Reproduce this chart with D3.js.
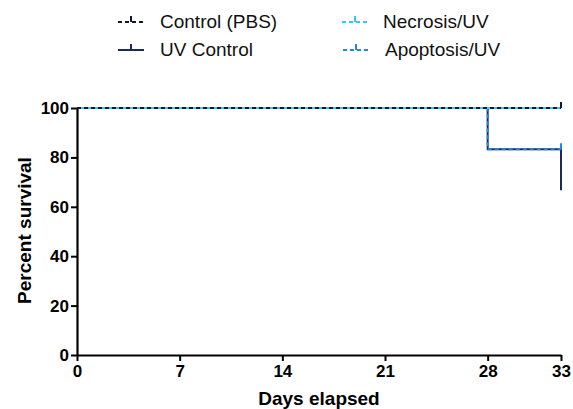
<!DOCTYPE html>
<html>
<head>
<meta charset="utf-8">
<script src="https://cdn.jsdelivr.net/npm/d3@7"></script>
<style>
  body { margin: 0; background: #fff; }
  text { font-family: "Liberation Sans", Arial, sans-serif; }
</style>
</head>
<body>
<div id="chart"></div>
<script>
// survival data (days, percent)
var seriesNames = ["Control (PBS)", "UV Control", "Necrosis/UV", "Apoptosis/UV"];
var controlDays = [0, 33], controlSurv = [100, 100];
var uvDays = [0, 28, 33], uvSurv = [100, 83.3, 66.7];
var necrosisDays = [0, 33], necrosisSurv = [100, 100];
var apoptosisDays = [0, 28, 33], apoptosisSurv = [100, 83.3, 83.3];
var censoredEnd = [true, false, true, true];
var xTicks = [0, 7, 14, 21, 28, 33];
var yTicks = [0, 20, 40, 60, 80, 100];

var width = 573, height = 409;
var svg = d3.select("#chart").append("svg")
    .attr("width", width)
    .attr("height", height);

var x = d3.scaleLinear().domain([0, 33]).range([77, 561]);
var y = d3.scaleLinear().domain([0, 100]).range([355, 108]);

var styles = [
    { color: "#111833", width: 1.8, dash: "4,3", offset: 0 },
    { color: "#1a2a5e", width: 2, dash: null, offset: 0 },
    { color: "#35c8f5", width: 1.8, dash: "4,3", offset: 3 },
    { color: "#1e88f0", width: 1.8, dash: "4,3", offset: 3 }
];

var series = [
    { days: controlDays, surv: controlSurv },
    { days: uvDays, surv: uvSurv },
    { days: necrosisDays, surv: necrosisSurv },
    { days: apoptosisDays, surv: apoptosisSurv }
].map(function (s, i) {
    return {
        name: seriesNames[i],
        style: styles[i],
        censored: censoredEnd[i],
        pts: s.days.map(function (d, j) { return { day: d, surv: s.surv[j] }; })
    };
});

// axes
var xAxis = svg.append("g")
    .attr("transform", "translate(0," + y(0) + ")")
    .call(d3.axisBottom(x).tickValues(xTicks).tickSize(6).tickSizeOuter(0));
var yAxis = svg.append("g")
    .attr("transform", "translate(" + x(0) + ",0)")
    .call(d3.axisLeft(y).tickValues(yTicks).tickSize(6).tickSizeOuter(0));

[xAxis, yAxis].forEach(function (g) {
    g.select(".domain").attr("stroke", "#000").attr("stroke-width", 2.2);
    g.selectAll(".tick line").attr("stroke", "#000").attr("stroke-width", 2);
    g.selectAll(".tick text")
        .attr("fill", "#000")
        .style("font-size", "17px")
        .style("font-weight", "bold")
        .style("font-family", "'Liberation Sans', Arial, sans-serif");
});
xAxis.selectAll(".tick text").attr("y", 8).attr("dy", "0.85em");
yAxis.selectAll(".tick text").attr("x", -8);

svg.append("text")
    .attr("x", (x(0) + x(33)) / 2)
    .attr("y", 405)
    .attr("text-anchor", "middle")
    .style("font-size", "19px")
    .style("font-weight", "bold")
    .text("Days elapsed");

svg.append("text")
    .attr("transform", "translate(31," + (y(50) - 1) + ") rotate(-90)")
    .attr("text-anchor", "middle")
    .style("font-size", "19px")
    .style("font-weight", "bold")
    .text("Percent survival");

// curves
var line = d3.line()
    .x(function (d) { return x(d.day); })
    .y(function (d) { return y(d.surv); })
    .curve(d3.curveStepAfter);

var order = [1, 3, 2, 0];
order.forEach(function (i) {
    var s = series[i];
    svg.append("path")
        .datum(s.pts)
        .attr("fill", "none")
        .attr("stroke", s.style.color)
        .attr("stroke-width", s.style.width)
        .attr("stroke-dasharray", s.style.dash)
        .attr("stroke-dashoffset", s.style.offset)
        .attr("d", line);
    if (s.censored) {
        var last = s.pts[s.pts.length - 1];
        svg.append("line")
            .attr("x1", x(last.day)).attr("x2", x(last.day))
            .attr("y1", y(last.surv)).attr("y2", y(last.surv) - 6)
            .attr("stroke", s.style.color)
            .attr("stroke-width", 2);
    }
});

// legend
var legendPos = [[118, 22, 160], [118, 50, 160], [342, 22, 383], [343, 50, 385]];
series.forEach(function (s, i) {
    var p = legendPos[i];
    var g = svg.append("g")
        .attr("transform", "translate(" + p[0] + "," + p[1] + ")");
    g.append("line")
        .attr("x1", 0).attr("x2", 26)
        .attr("y1", 0).attr("y2", 0)
        .attr("stroke", s.style.color)
        .attr("stroke-width", 2)
        .attr("stroke-dasharray", s.style.dash);
    g.append("line")
        .attr("x1", 13).attr("x2", 13)
        .attr("y1", 0).attr("y2", -6)
        .attr("stroke", s.style.color)
        .attr("stroke-width", 2);
    g.append("text")
        .attr("x", p[2] - p[0])
        .attr("y", 6)
        .style("font-size", "19px")
        .attr("fill", "#111")
        .text(s.name);
});
</script>
</body>
</html>
